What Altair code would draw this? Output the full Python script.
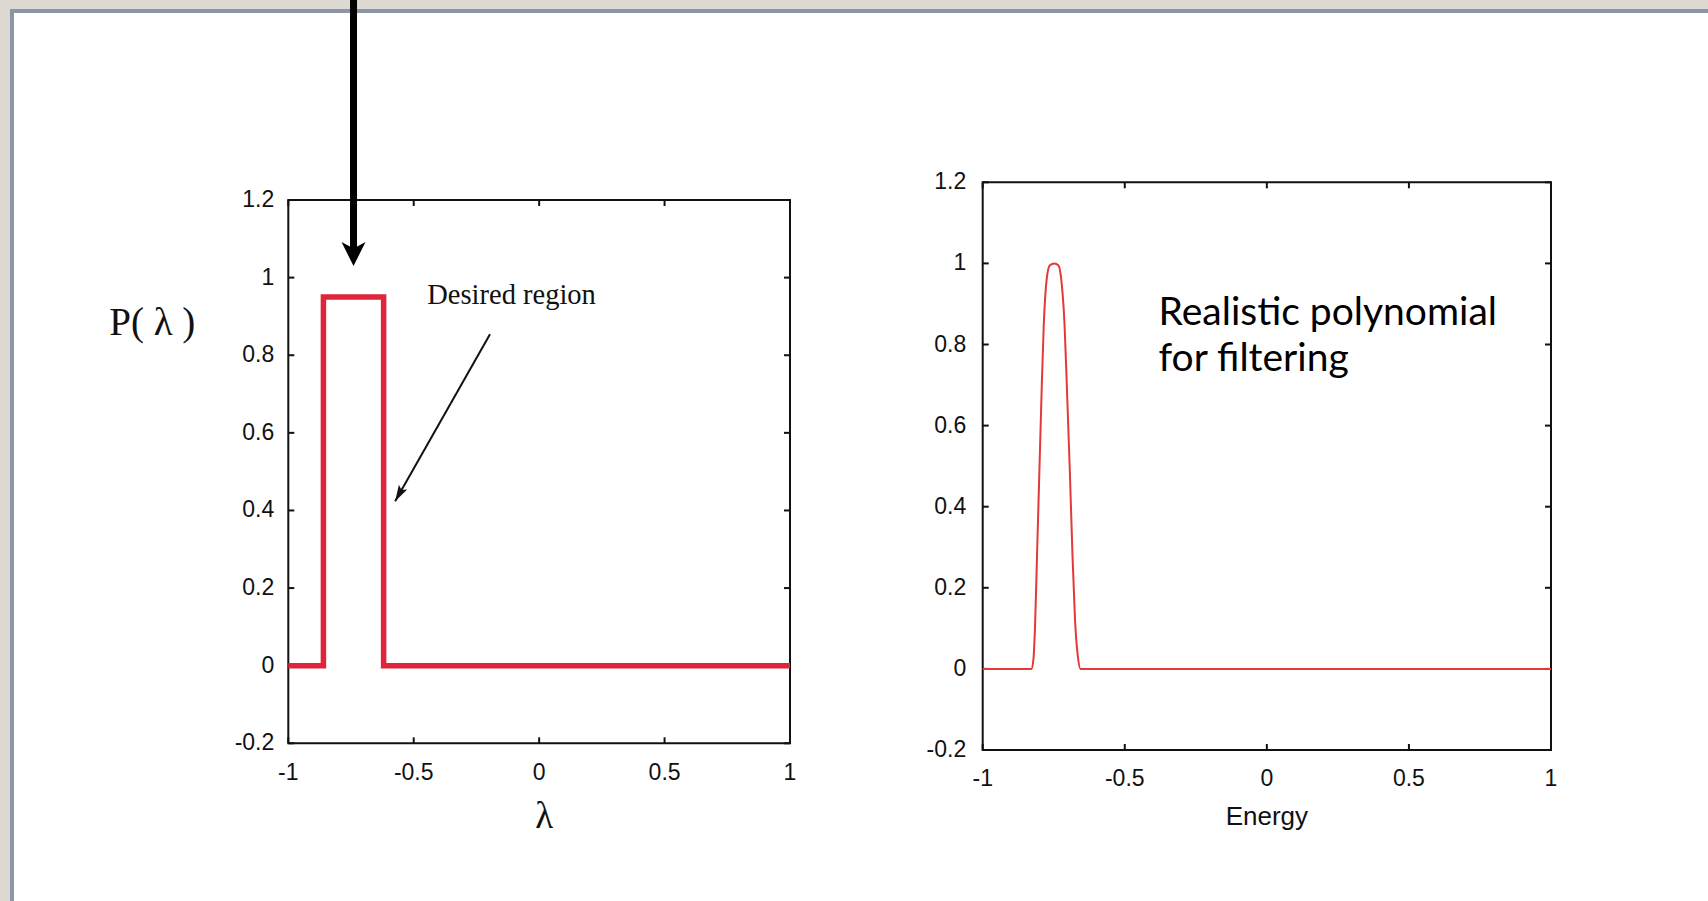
import math
import altair as alt
import pandas as pd

PAGE_W, PAGE_H = 1708, 901
SANS = "Liberation Sans"
SERIF = "Liberation Serif"
HUMANIST = "Lato"
INK = "#111111"
PAGE_BG = "#dcd9d3"
BORDER = "#8a96a5"

# Plot frames on the page, in pixels: [left, right] and [bottom, top]
LEFT_XR = [288.3, 790.0]
LEFT_YR = [743.3, 200.0]
RIGHT_XR = [982.7, 1551.0]
RIGHT_YR = [750.0, 182.3]

X_DOMAIN = [-1, 1]
Y_DOMAIN = [-0.2, 1.2]
x_ticks = [-1, -0.5, 0, 0.5, 1]
x_tick_labels = ["-1", "-0.5", "0", "0.5", "1"]
y_ticks = [-0.2, 0, 0.2, 0.4, 0.6, 0.8, 1, 1.2]
y_tick_labels = ["-0.2", "0", "0.2", "0.4", "0.6", "0.8", "1", "1.2"]

# Ideal window filter P(lambda)
step_x = [-1, -0.86, -0.86, -0.62, -0.62, 1]
step_y = [0, 0, 0.95, 0.95, 0, 0]

# Polynomial approximation of the filter
poly_x = [-1.0, -0.9, -0.829, -0.822, -0.816, -0.808, -0.800, -0.792, -0.785,
          -0.775, -0.764, -0.748, -0.733, -0.722, -0.712, -0.703, -0.693,
          -0.684, -0.675, -0.665, -0.656, -0.643, -0.6, -0.3, 0.0, 0.5, 1.0]
poly_y = [0, 0, 0, 0.02, 0.1, 0.3, 0.5, 0.7, 0.85,
          0.96, 0.995, 1.0, 0.995, 0.95, 0.85, 0.68, 0.48,
          0.28, 0.12, 0.03, 0.0, 0.0, 0, 0, 0, 0, 0]

# Annotations (data coordinates of the left panel unless noted)
big_arrow_x = -0.74
big_arrow_tip_y = 1.03
note_arrow_x = [-0.196, -0.574]
note_arrow_y = [0.854, 0.424]
note_text = "Desired region"
note_text_pos = (-0.11, 0.955)
poly_text = ["Realistic polynomial", "for filtering"]
poly_text_pos = (-0.381, 0.849)  # right panel

# Axis titles: text and anchor in data coordinates
left_xtitle, left_xtitle_pos = "λ", (0.02, -0.2)
left_ytitle, left_ytitle_pos = "P( λ )", (-1, 0.883)
right_xtitle, right_xtitle_pos = "Energy", (0.0, -0.2)

# Arrowhead shapes, tip at the symbol origin, pointing down
STEALTH = "M0,0L-1,-2L0,-1.45L1,-2Z"
NARROW = "M0,0L-0.6,-2L0,-1.6L0.6,-2Z"

TICK_LEN = 6
LABEL_SIZE = 23


def px_angle(x0, y0, x1, y1, xr, yr):
    """Clockwise rotation (deg) turning a down-pointing head along the segment."""
    sx = (xr[1] - xr[0]) / (X_DOMAIN[1] - X_DOMAIN[0])
    sy = (yr[1] - yr[0]) / (Y_DOMAIN[1] - Y_DOMAIN[0])
    dx = (x1 - x0) * sx
    dy = (y1 - y0) * sy
    return math.degrees(math.atan2(-dx, dy)) % 360


def enc_xy(xs, ys, x="x:Q", y="y:Q"):
    return dict(x=alt.X(x, scale=xs, axis=None), y=alt.Y(y, scale=ys, axis=None))


def frame_layers(xs, ys, ylabel_gap, xlabel_drop):
    """Box with inward ticks on all four sides, plus tick labels."""
    box = alt.Chart(pd.DataFrame({"k": [0]})).mark_rect(
        fillOpacity=0, stroke=INK, strokeWidth=2).encode(
        x=alt.XDatum(X_DOMAIN[0], scale=xs, axis=None), x2=alt.datum(X_DOMAIN[1]),
        y=alt.YDatum(Y_DOMAIN[0], scale=ys, axis=None), y2=alt.datum(Y_DOMAIN[1]))
    xt = pd.DataFrame({"v": x_ticks, "t": x_tick_labels})
    yt = pd.DataFrame({"v": y_ticks, "t": y_tick_labels})
    rule = dict(color=INK, strokeWidth=2)
    bottom = alt.Chart(xt).mark_rule(y2Offset=-TICK_LEN, **rule).encode(
        x=alt.X("v:Q", scale=xs, axis=None),
        y=alt.YDatum(Y_DOMAIN[0], scale=ys, axis=None), y2=alt.datum(Y_DOMAIN[0]))
    top = alt.Chart(xt).mark_rule(y2Offset=TICK_LEN, **rule).encode(
        x=alt.X("v:Q", scale=xs, axis=None),
        y=alt.YDatum(Y_DOMAIN[1], scale=ys, axis=None), y2=alt.datum(Y_DOMAIN[1]))
    left = alt.Chart(yt).mark_rule(x2Offset=TICK_LEN, **rule).encode(
        y=alt.Y("v:Q", scale=ys, axis=None),
        x=alt.XDatum(X_DOMAIN[0], scale=xs, axis=None), x2=alt.datum(X_DOMAIN[0]))
    right = alt.Chart(yt).mark_rule(x2Offset=-TICK_LEN, **rule).encode(
        y=alt.Y("v:Q", scale=ys, axis=None),
        x=alt.XDatum(X_DOMAIN[1], scale=xs, axis=None), x2=alt.datum(X_DOMAIN[1]))
    xlab = alt.Chart(xt).mark_text(
        font=SANS, fontSize=LABEL_SIZE, color=INK, align="center",
        baseline="alphabetic", dy=xlabel_drop).encode(
        x=alt.X("v:Q", scale=xs, axis=None),
        y=alt.YDatum(Y_DOMAIN[0], scale=ys, axis=None), text="t:N")
    ylab = alt.Chart(yt).mark_text(
        font=SANS, fontSize=LABEL_SIZE, color=INK, align="right",
        baseline="middle", dx=-ylabel_gap).encode(
        y=alt.Y("v:Q", scale=ys, axis=None),
        x=alt.XDatum(X_DOMAIN[0], scale=xs, axis=None), text="t:N")
    return [box, bottom, top, left, right, xlab, ylab]


def title_text(xs, ys, text, pos, **style):
    return alt.Chart(pd.DataFrame({"x": [pos[0]], "y": [pos[1]]})).mark_text(
        text=text, color=INK, **style).encode(**enc_xy(xs, ys))


# ---------------- left panel: ideal filter ----------------
lxs = alt.Scale(domain=X_DOMAIN, range=LEFT_XR, nice=False, zero=False)
lys = alt.Scale(domain=Y_DOMAIN, range=LEFT_YR, nice=False, zero=False)

step_df = pd.DataFrame({"x": step_x, "y": step_y, "i": list(range(len(step_x)))})
step_line = alt.Chart(step_df).mark_line(
    color="#e0243c", strokeWidth=5.5, strokeJoin="miter").encode(
    order="i:Q", **enc_xy(lxs, lys))

note_df = pd.DataFrame({"x": [note_arrow_x[0]], "x2": [note_arrow_x[1]],
                        "y": [note_arrow_y[0]], "y2": [note_arrow_y[1]]})
note_line = alt.Chart(note_df).mark_rule(color=INK, strokeWidth=2).encode(
    x2="x2:Q", y2="y2:Q", **enc_xy(lxs, lys))
note_head = alt.Chart(pd.DataFrame({"x": [note_arrow_x[1]], "y": [note_arrow_y[1]]})).mark_point(
    shape=NARROW, filled=True, color=INK, opacity=1, size=256, strokeWidth=0,
    angle=px_angle(note_arrow_x[0], note_arrow_y[0], note_arrow_x[1], note_arrow_y[1],
                   LEFT_XR, LEFT_YR)).encode(**enc_xy(lxs, lys))
note_label = title_text(lxs, lys, note_text, note_text_pos, font=SERIF, fontSize=28.5,
                        align="center", baseline="middle")

big_df = pd.DataFrame({"x": [big_arrow_x], "y": [big_arrow_tip_y]})
big_line = alt.Chart(big_df).mark_rule(color="black", strokeWidth=7, yOffset=-10).encode(
    y2=alt.value(0), **enc_xy(lxs, lys))
big_head = alt.Chart(big_df).mark_point(
    shape=STEALTH, filled=True, color="black", opacity=1, size=24 * 24,
    strokeWidth=0).encode(**enc_xy(lxs, lys))

left_titles = [
    title_text(lxs, lys, left_xtitle, left_xtitle_pos, font=SERIF, fontSize=37,
               align="center", baseline="alphabetic", dy=85),
    title_text(lxs, lys, left_ytitle, left_ytitle_pos, font=SERIF, fontSize=39,
               align="center", baseline="middle", dx=-136),
]

left_panel = alt.layer(*frame_layers(lxs, lys, 14, 36.5), step_line, note_line,
                       note_head, note_label, *left_titles, big_line, big_head)

# ---------------- right panel: polynomial filter ----------------
rxs = alt.Scale(domain=X_DOMAIN, range=RIGHT_XR, nice=False, zero=False)
rys = alt.Scale(domain=Y_DOMAIN, range=RIGHT_YR, nice=False, zero=False)

poly_df = pd.DataFrame({"x": poly_x, "y": poly_y})
poly_line = alt.Chart(poly_df).mark_line(
    color="#e23a36", strokeWidth=2, interpolate="monotone").encode(**enc_xy(rxs, rys))

poly_label = alt.Chart(pd.DataFrame({"x": [poly_text_pos[0]], "y": [poly_text_pos[1]]})).mark_text(
    font=HUMANIST, fontSize=39, color="black", align="left", baseline="alphabetic",
    lineHeight=46).encode(text=alt.value(poly_text), **enc_xy(rxs, rys))

right_title = title_text(rxs, rys, right_xtitle, right_xtitle_pos, font=SANS,
                         fontSize=26, align="center", baseline="alphabetic", dy=75)

right_panel = alt.layer(*frame_layers(rxs, rys, 16.5, 36), poly_line, poly_label,
                        right_title)

# ---------------- slide edge: grey margin and blue-grey border ----------------
def strip(x0, x1, y0, y1, color):
    return alt.Chart(pd.DataFrame({"k": [0]})).mark_rect(color=color).encode(
        x=alt.value(x0), x2=alt.value(x1), y=alt.value(y0), y2=alt.value(y1))


edges = [
    strip(0, PAGE_W, 0, 9, PAGE_BG),
    strip(0, 10, 0, PAGE_H, PAGE_BG),
    strip(10, PAGE_W, 9, 13, BORDER),
    strip(10, 14, 9, PAGE_H, BORDER),
]

chart = alt.layer(*edges, left_panel, right_panel).resolve_scale(
    x="independent", y="independent").properties(
    width=PAGE_W, height=PAGE_H, padding=0,
    autosize=alt.AutoSizeParams(type="none"), background="white").configure_view(
    strokeWidth=0)

chart.save("out.html", embed_options={"renderer": "svg", "actions": False})
